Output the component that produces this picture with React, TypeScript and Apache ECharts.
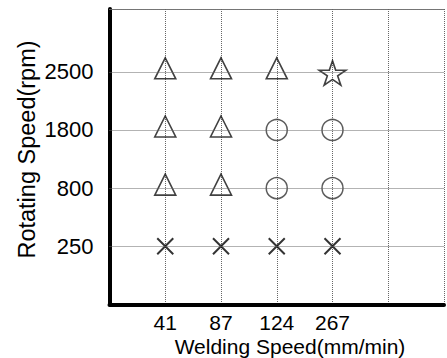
import React, { useEffect, useRef } from 'react';
import * as echarts from 'echarts';

const weldingSpeeds = ['41', '87', '124', '267'];
const rotatingSpeeds = ['250', '800', '1800', '2500'];

// [welding speed, rotating speed] per result marker
const trianglePoints = [
  ['41', '2500'], ['87', '2500'], ['124', '2500'],
  ['41', '1800'], ['87', '1800'],
  ['41', '800'], ['87', '800'],
];
const circlePoints = [
  ['124', '1800'], ['267', '1800'],
  ['124', '800'], ['267', '800'],
];
const starPoints = [['267', '2500']];
const crossPoints = [['41', '250'], ['87', '250'], ['124', '250'], ['267', '250']];

const xTitle = 'Welding Speed(mm/min)';
const yTitle = 'Rotating Speed(rpm)';

const toXY = (pts: string[][]) =>
  pts.map(([w, r]) => [weldingSpeeds.indexOf(w) + 1, rotatingSpeeds.indexOf(r) + 1]);

const STAR =
  'path://M50,0 L61.23,34.55 L97.55,34.55 L68.17,55.9 L79.39,90.45 L50,69.1 L20.61,90.45 L31.83,55.9 L2.45,34.55 L38.77,34.55 Z';
const CROSS = 'path://M0,0 L10,10 M10,0 L0,10';

export default function App() {
  const ref = useRef<HTMLDivElement>(null);
  useEffect(() => {
    if (!ref.current) return;
    const chart = echarts.init(ref.current, undefined, { renderer: 'svg' });
    const grid = { color: '#666', type: [1, 1] as any, width: 1 };
    const markStyle = { color: 'none', borderColor: '#111', borderWidth: 1.6 };
    const yMax = 5.08;
    const font = 'Liberation Sans';
    chart.setOption({
      animation: false,
      backgroundColor: '#fff',
      grid: { left: 109.5, right: -1.5, top: 9, bottom: 53.5 },
      xAxis: [
        {
          type: 'value', min: 0, max: 6, interval: 1, position: 'bottom',
          axisLine: { show: true, lineStyle: { color: '#000', width: 4 } },
          axisTick: { show: false },
          axisLabel: {
            formatter: (v: number) => weldingSpeeds[v - 1] ?? '',
            fontSize: 21, color: '#000', fontFamily: font, margin: 8, lineHeight: 20,
          },
          splitLine: { show: true, lineStyle: grid },
        },
        {
          type: 'value', min: 0, max: 6, interval: 1, position: 'top',
          axisLine: { show: true, lineStyle: grid },
          axisTick: { show: false }, axisLabel: { show: false }, splitLine: { show: false },
        },
      ],
      yAxis: {
        type: 'value', min: 0, max: yMax, interval: 1,
        axisLine: { show: true, lineStyle: { color: '#000', width: 4 } },
        axisTick: { show: false },
        axisLabel: {
          formatter: (v: number) => rotatingSpeeds[v - 1] ?? '',
          fontSize: 22, color: '#000', fontFamily: font, margin: 16,
          padding: [0, 0, 6, 0],
        },
        splitLine: { show: false },
      },
      graphic: [
        {
          type: 'text', x: 290, y: 346,
          style: {
            text: xTitle, fontSize: 21, fontFamily: font, fill: '#000',
            align: 'center', verticalAlign: 'middle',
          },
        },
        {
          type: 'text', x: 27, y: 149.5, rotation: Math.PI / 2,
          style: {
            text: yTitle, fontSize: 23.5, fontFamily: font, fill: '#000',
            align: 'center', verticalAlign: 'middle',
          },
        },
      ],
      series: [
        {
          type: 'scatter', data: toXY(crossPoints), symbol: CROSS, symbolSize: 16,
          itemStyle: { ...markStyle, borderColor: '#000', borderWidth: 2 },
          markLine: {
            silent: true, symbol: 'none', label: { show: false },
            lineStyle: grid,
            data: rotatingSpeeds.map((_, i) => ({ yAxis: i + 1 })),
          },
        },
        {
          type: 'scatter', data: toXY(trianglePoints), symbol: 'triangle', symbolSize: 21,
          symbolOffset: [0, -3.5], itemStyle: markStyle,
        },
        {
          type: 'scatter', data: toXY(circlePoints), symbol: 'circle', symbolSize: 21,
          itemStyle: { ...markStyle, borderColor: '#333', borderWidth: 1.5 },
        },
        {
          type: 'scatter', data: toXY(starPoints), symbol: STAR, symbolSize: [27, 24.4],
          symbolOffset: [0, 1.2], itemStyle: markStyle,
        },
      ],
    });
    return () => chart.dispose();
  }, []);
  return <div ref={ref} style={{ position: 'fixed', left: 0, top: 0, width: 447, height: 358 }} />;
}
